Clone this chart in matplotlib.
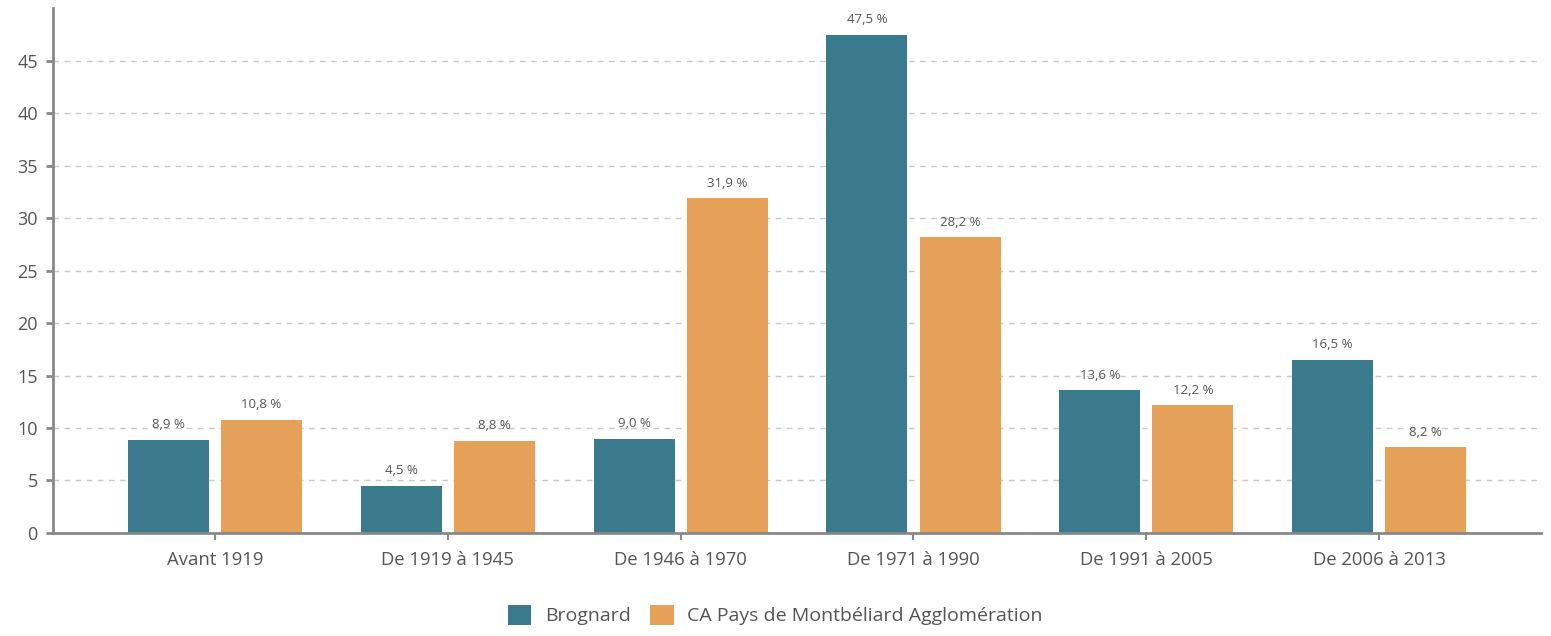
import matplotlib
matplotlib.use('Agg')
import matplotlib.pyplot as plt
import numpy as np

categories = ['Avant 1919', 'De 1919 à 1945', 'De 1946 à 1970',
              'De 1971 à 1990', 'De 1991 à 2005', 'De 2006 à 2013']
brognard = [8.9, 4.5, 9.0, 47.5, 13.6, 16.5]
ca_pma = [10.8, 8.8, 31.9, 28.2, 12.2, 8.2]
series_names = ['Brognard', 'CA Pays de Montbéliard Agglomération']

plt.rcParams['font.family'] = ['Open Sans', 'DejaVu Sans']
txt = '#555555'
axc = '#888888'

fig = plt.figure(figsize=(15.51, 6.36), dpi=100)
ax = fig.add_axes([0.0342, 0.162, 0.9594, 0.825])

x = np.arange(len(categories))
w = 0.348
b1 = ax.bar(x - 0.2, brognard, w, color='#3a7a8c', label=series_names[0], zorder=3)
b2 = ax.bar(x + 0.2, ca_pma, w, color='#e5a05a', label=series_names[1], zorder=3)

for bars, vals in ((b1, brognard), (b2, ca_pma)):
    for r, v in zip(bars, vals):
        ax.annotate(f'{v:.1f} %'.replace('.', ','), (r.get_x() + r.get_width() / 2, v),
                    xytext=(0, 6), textcoords='offset points', ha='center', va='bottom',
                    fontsize=9.5, color=txt)

ax.set_xlim(-0.695, len(categories) - 1 + 0.695)
ax.set_ylim(0, 50)
ax.set_yticks(range(0, 50, 5))
ax.set_xticks(x)
ax.set_xticklabels(categories)
ax.yaxis.grid(True, linestyle=(0, (4, 4)), color='#c8c8c8', linewidth=1, zorder=0)
ax.set_axisbelow(True)

for s in ('top', 'right'):
    ax.spines[s].set_visible(False)
ax.spines['left'].set_color(axc)
ax.spines['left'].set_linewidth(2)
ax.spines['bottom'].set_color(axc)
ax.spines['bottom'].set_linewidth(2)
ax.spines['bottom'].set_zorder(4)
ax.tick_params(axis='y', length=5, width=2, color=axc, labelsize=13, labelcolor=txt, pad=6)
ax.tick_params(axis='x', length=5, width=1.5, color=axc, labelsize=13.3, labelcolor=txt, pad=8)

fig.legend(handles=[b1, b2], loc='center', bbox_to_anchor=(0.5, 0.033), ncol=2,
           frameon=False, fontsize=14, labelcolor=txt, handlelength=1.2, handleheight=1.2,
           handletextpad=0.7, columnspacing=1.0)

fig.savefig('out.png', dpi=100)
